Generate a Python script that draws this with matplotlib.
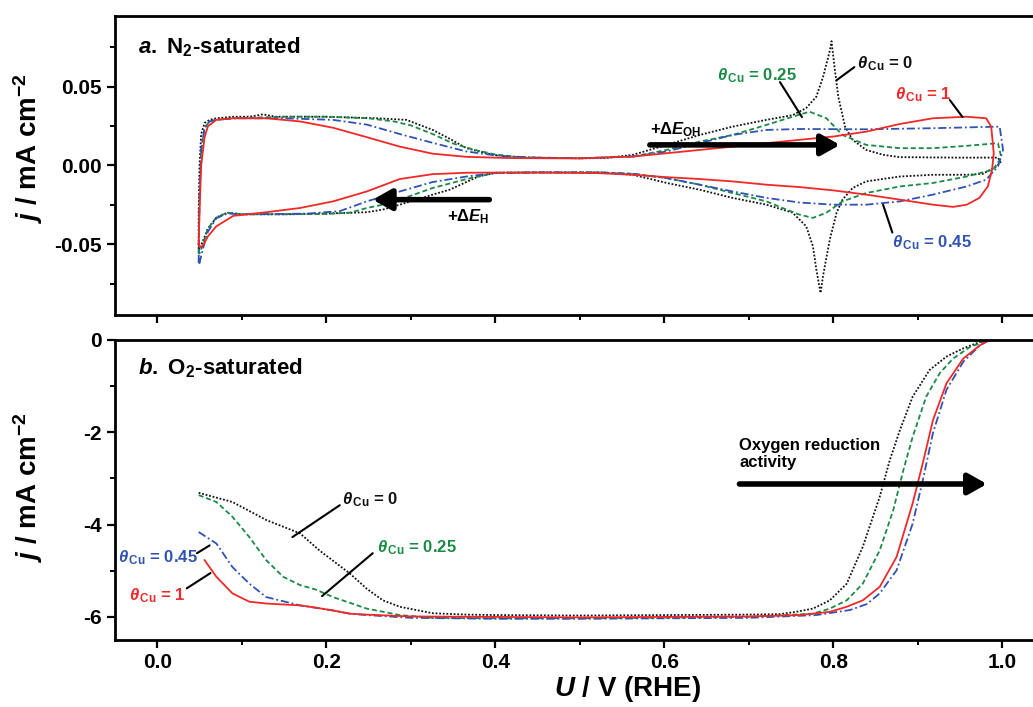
import numpy as np
import matplotlib
matplotlib.use('Agg')
import matplotlib.pyplot as plt
from matplotlib.ticker import MultipleLocator, FormatStrFormatter

plt.rcParams['font.family'] = 'Liberation Sans'
plt.rcParams['font.weight'] = 'bold'
plt.rcParams['axes.labelweight'] = 'bold'
plt.rcParams['mathtext.fontset'] = 'custom'
plt.rcParams['mathtext.rm'] = 'Liberation Sans:bold'
plt.rcParams['mathtext.it'] = 'Liberation Sans:italic:bold'
plt.rcParams['mathtext.bf'] = 'Liberation Sans:bold'
plt.rcParams['axes.unicode_minus'] = False

# ---- panel a: CVs in N2 (anodic sweep then cathodic sweep) ----
cv0_x_up = [0.049, 0.049, 0.050, 0.052, 0.056, 0.062, 0.070, 0.090, 0.110, 0.125, 0.140, 0.200, 0.260, 0.295,
            0.326, 0.346, 0.366, 0.397, 0.430, 0.500, 0.530, 0.563, 0.603, 0.642, 0.681, 0.721, 0.752, 0.768,
            0.780, 0.788, 0.796, 0.798, 0.802, 0.806, 0.814, 0.823, 0.839, 0.859, 0.879, 0.950, 0.995, 0.998]
cv0_y_up = [-0.053, -0.030, 0.000, 0.020, 0.027, 0.029, 0.030, 0.031, 0.031, 0.0325, 0.031, 0.031, 0.030, 0.029,
            0.0226, 0.017, 0.011, 0.0068, 0.0050, 0.0046, 0.0047, 0.0068, 0.0131, 0.0194, 0.0247, 0.0290, 0.0320, 0.0365,
            0.0437, 0.0563, 0.0730, 0.0790, 0.0606, 0.0437, 0.0247, 0.0163, 0.0099, 0.0068, 0.0053, 0.0050, 0.0050, 0.0020]
cv0_x_dn = [0.998, 0.993, 0.977, 0.958, 0.918, 0.879, 0.839, 0.823, 0.811, 0.804, 0.796, 0.788, 0.785, 0.780,
            0.776, 0.768, 0.752, 0.721, 0.681, 0.642, 0.603, 0.563, 0.524, 0.450, 0.400, 0.380, 0.346, 0.326,
            0.307, 0.287, 0.267, 0.248, 0.200, 0.150, 0.100, 0.083, 0.070, 0.060, 0.054, 0.050, 0.049]
cv0_y_dn = [0.0020, -0.0006, -0.0053, -0.0059, -0.0059, -0.0070, -0.0101, -0.0143, -0.0217, -0.0300, -0.0470, -0.0700, -0.0810, -0.0660,
            -0.0513, -0.0386, -0.0300, -0.0249, -0.0206, -0.0154, -0.0111, -0.0059, -0.0044, -0.0044, -0.0046, -0.0070, -0.0154, -0.0185,
            -0.0217, -0.0249, -0.0280, -0.0297, -0.0305, -0.0310, -0.0310, -0.0300, -0.0330, -0.0400, -0.0480, -0.0534, -0.0530]

cv25_x_up = [0.049, 0.050, 0.052, 0.056, 0.062, 0.070, 0.090, 0.150, 0.200, 0.250, 0.280, 0.300, 0.326, 0.350,
             0.375, 0.400, 0.430, 0.500, 0.563, 0.603, 0.642, 0.681, 0.721, 0.752, 0.772, 0.792, 0.811, 0.839,
             0.879, 0.918, 0.958, 0.995, 0.999]
cv25_y_up = [-0.056, -0.020, 0.010, 0.024, 0.028, 0.029, 0.030, 0.031, 0.031, 0.030, 0.028, 0.0255, 0.020, 0.014,
             0.010, 0.007, 0.0052, 0.0046, 0.0057, 0.0099, 0.0152, 0.0194, 0.0258, 0.0310, 0.0342, 0.0300, 0.0194, 0.0131,
             0.0110, 0.0110, 0.0125, 0.0142, 0.0050]
cv25_x_dn = [0.999, 0.989, 0.958, 0.918, 0.879, 0.839, 0.811, 0.792, 0.776, 0.760, 0.740, 0.721, 0.681, 0.642,
             0.603, 0.563, 0.524, 0.450, 0.400, 0.366, 0.326, 0.287, 0.267, 0.248, 0.228, 0.200, 0.150, 0.100,
             0.083, 0.070, 0.060, 0.054, 0.050, 0.049]
cv25_y_dn = [0.0050, -0.0027, -0.0070, -0.0111, -0.0133, -0.0175, -0.0228, -0.0300, -0.0333, -0.0312, -0.0270, -0.0228, -0.0175, -0.0122,
             -0.0080, -0.0053, -0.0044, -0.0044, -0.0047, -0.0086, -0.0143, -0.0217, -0.0249, -0.0270, -0.0300, -0.0308, -0.0310, -0.0310,
             -0.0300, -0.0330, -0.0400, -0.0500, -0.0560, -0.0550]

cv45_x_up = [0.049, 0.050, 0.052, 0.056, 0.062, 0.070, 0.090, 0.150, 0.208, 0.248, 0.287, 0.326, 0.366, 0.405,
             0.450, 0.500, 0.563, 0.603, 0.642, 0.681, 0.721, 0.760, 0.839, 0.918, 0.997, 1.001]
cv45_y_up = [-0.062, -0.020, 0.010, 0.024, 0.028, 0.029, 0.030, 0.030, 0.029, 0.026, 0.020, 0.0144, 0.0089, 0.0061,
             0.0050, 0.0046, 0.0057, 0.0089, 0.0142, 0.0194, 0.0226, 0.0232, 0.0230, 0.0237, 0.0247, 0.0100]
cv45_x_dn = [1.001, 0.995, 0.981, 0.958, 0.918, 0.879, 0.839, 0.800, 0.760, 0.721, 0.681, 0.642, 0.603, 0.563,
             0.524, 0.450, 0.400, 0.366, 0.326, 0.287, 0.248, 0.216, 0.180, 0.150, 0.100, 0.083, 0.070, 0.060,
             0.054, 0.050, 0.049]
cv45_y_dn = [0.0100, -0.0006, -0.0090, -0.0133, -0.0185, -0.0228, -0.0249, -0.0249, -0.0235, -0.0206, -0.0165, -0.0122, -0.0080, -0.0053,
             -0.0044, -0.0044, -0.0048, -0.0070, -0.0105, -0.0165, -0.0228, -0.0290, -0.0305, -0.0308, -0.0310, -0.0305, -0.0335, -0.0420,
             -0.0530, -0.0620, -0.0600]

cv1_x_up = [0.049, 0.050, 0.052, 0.056, 0.060, 0.070, 0.090, 0.129, 0.169, 0.208, 0.248, 0.287, 0.326, 0.366,
            0.420, 0.500, 0.563, 0.603, 0.642, 0.681, 0.721, 0.760, 0.800, 0.839, 0.879, 0.918, 0.958, 0.981,
            0.987, 0.990]
cv1_y_up = [-0.050, -0.030, 0.000, 0.018, 0.025, 0.029, 0.030, 0.030, 0.028, 0.024, 0.018, 0.012, 0.0075, 0.0055,
            0.0047, 0.0045, 0.0057, 0.0078, 0.0099, 0.0120, 0.0142, 0.0163, 0.0184, 0.0215, 0.0264, 0.0300, 0.0310, 0.0300,
            0.0247, 0.0078]
cv1_x_dn = [0.990, 0.988, 0.983, 0.973, 0.958, 0.942, 0.918, 0.879, 0.839, 0.800, 0.760, 0.721, 0.681, 0.642,
            0.603, 0.563, 0.520, 0.450, 0.400, 0.366, 0.326, 0.287, 0.248, 0.208, 0.169, 0.129, 0.090, 0.070,
            0.060, 0.054, 0.051, 0.049]
cv1_y_dn = [0.0078, -0.0027, -0.0133, -0.0206, -0.0249, -0.0263, -0.0249, -0.0217, -0.0185, -0.0158, -0.0137, -0.0122, -0.0101, -0.0086,
            -0.0074, -0.0059, -0.0048, -0.0045, -0.0045, -0.0046, -0.0055, -0.0086, -0.0165, -0.0228, -0.0270, -0.0297, -0.0320, -0.0386,
            -0.0450, -0.0510, -0.0520, -0.0500]

# ---- panel b: ORR polarisation curves in O2 ----
orr0_x = [0.049, 0.089, 0.129, 0.169, 0.192, 0.228, 0.248, 0.267, 0.287, 0.326, 0.366, 0.405, 0.500, 0.600, 0.700,
          0.737, 0.756, 0.776, 0.796, 0.816, 0.835, 0.855, 0.867, 0.879, 0.894, 0.914, 0.934, 0.954, 0.974, 0.985]
orr0_y = [-3.31, -3.51, -3.90, -4.19, -4.56, -5.06, -5.39, -5.64, -5.78, -5.92, -5.95, -5.96, -5.97, -5.96, -5.95,
          -5.94, -5.89, -5.82, -5.64, -5.28, -4.48, -3.40, -2.60, -1.95, -1.23, -0.65, -0.36, -0.18, -0.04, 0.0]
orr25_x = [0.049, 0.070, 0.089, 0.109, 0.129, 0.149, 0.169, 0.188, 0.208, 0.248, 0.287, 0.326, 0.400, 0.500, 0.600,
           0.700, 0.776, 0.796, 0.816, 0.835, 0.855, 0.871, 0.883, 0.894, 0.910, 0.926, 0.942, 0.962, 0.985]
orr25_y = [-3.36, -3.51, -3.83, -4.27, -4.77, -5.13, -5.31, -5.41, -5.57, -5.82, -5.96, -6.02, -6.03, -6.03, -6.02,
           -6.00, -5.93, -5.82, -5.64, -5.28, -4.56, -3.69, -2.82, -2.10, -1.23, -0.72, -0.40, -0.15, 0.0]
orr45_x = [0.049, 0.070, 0.089, 0.109, 0.129, 0.149, 0.169, 0.208, 0.228, 0.248, 0.300, 0.400, 0.500, 0.600, 0.700,
           0.780, 0.820, 0.840, 0.855, 0.875, 0.894, 0.906, 0.918, 0.934, 0.954, 0.974, 0.985]
orr45_y = [-4.16, -4.41, -4.92, -5.28, -5.57, -5.66, -5.75, -5.86, -5.93, -5.96, -6.02, -6.04, -6.04, -6.03, -6.02,
           -5.96, -5.85, -5.72, -5.49, -4.99, -3.98, -3.04, -2.02, -1.08, -0.47, -0.11, 0.0]
orr1_x = [0.056, 0.070, 0.089, 0.109, 0.129, 0.169, 0.188, 0.208, 0.228, 0.248, 0.300, 0.400, 0.500, 0.600, 0.700,
          0.760, 0.796, 0.816, 0.835, 0.855, 0.875, 0.894, 0.906, 0.918, 0.934, 0.954, 0.974, 0.985]
orr1_y = [-4.77, -5.13, -5.49, -5.67, -5.71, -5.75, -5.80, -5.86, -5.93, -5.95, -5.99, -6.00, -6.01, -6.00, -5.99,
          -5.96, -5.89, -5.78, -5.64, -5.35, -4.70, -3.54, -2.67, -1.74, -0.94, -0.40, -0.11, 0.0]

theta_labels = ['0', '0.25', '0.45', '1']
colors = ['#111111', '#1b8a45', '#2f52b5', '#f02828']
linestyles = [(0, (1, 1)), (0, (2.8, 1.6)), (0, (4.5, 1.6, 1, 1.6)), '-']

cv_x = [cv0_x_up + cv0_x_dn, cv25_x_up + cv25_x_dn, cv45_x_up + cv45_x_dn, cv1_x_up + cv1_x_dn]
cv_y = [cv0_y_up + cv0_y_dn, cv25_y_up + cv25_y_dn, cv45_y_up + cv45_y_dn, cv1_y_up + cv1_y_dn]
orr_x = [orr0_x, orr25_x, orr45_x, orr1_x]
orr_y = [orr0_y, orr25_y, orr45_y, orr1_y]

fig = plt.figure(figsize=(10.33, 7.07), dpi=100)
W, H = 1033, 707
left, right = 115, 1036
ax1 = fig.add_axes([left / W, 1 - 315 / H, (right - left) / W, (315 - 16) / H])
ax2 = fig.add_axes([left / W, 1 - 640 / H, (right - left) / W, (640 - 340) / H])

for i in range(4):
    ax1.plot(cv_x[i], cv_y[i], color=colors[i], ls=linestyles[i], lw=1.3)
    ax2.plot(orr_x[i], orr_y[i], color=colors[i], ls=linestyles[i], lw=1.3)

for ax in (ax1, ax2):
    ax.set_xlim(-0.05, 1.04)
    ax.xaxis.set_major_locator(MultipleLocator(0.2))
    ax.xaxis.set_minor_locator(MultipleLocator(0.1))
    ax.tick_params(which='major', direction='out', length=6, width=1.6, labelsize=15,
                   top=False, right=False)
    ax.tick_params(which='minor', direction='out', length=3.5, width=1.4, top=False, right=False)
    for s in ax.spines.values():
        s.set_linewidth(2)
    ax.spines['right'].set_visible(False)

ax1.set_ylim(-0.095, 0.095)
ax1.yaxis.set_major_locator(MultipleLocator(0.05))
ax1.yaxis.set_minor_locator(MultipleLocator(0.025))
ax1.yaxis.set_major_formatter(FormatStrFormatter('%.2f'))
ax1.tick_params(axis='x', labelbottom=False)

ax2.set_ylim(-6.5, 0)
ax2.yaxis.set_major_locator(MultipleLocator(2))
ax2.yaxis.set_minor_locator(MultipleLocator(1))
ax2.yaxis.set_major_formatter(FormatStrFormatter('%d'))
ax2.xaxis.set_major_formatter(FormatStrFormatter('%.1f'))
ax2.tick_params(axis='x', which='major', pad=3)

ylab = r'$j$ / mA cm$^{-2}$'
ax1.set_ylabel(ylab, fontsize=20, fontweight='bold')
ax2.set_ylabel(ylab, fontsize=20, fontweight='bold')
ax1.yaxis.set_label_coords(-0.076, 0.56)
ax2.yaxis.set_label_coords(-0.076, 0.51)
ax2.set_xlabel(r'$U$ / V (RHE)', fontsize=20, fontweight='bold')
ax2.xaxis.set_label_coords(0.556, -0.115)

ax1.text(0.025, 0.896, r'$a.$ N$_2$-saturated', transform=ax1.transAxes, fontsize=16,
         ha='left', va='center')
ax2.text(0.025, 0.907, r'$b.$ O$_2$-saturated', transform=ax2.transAxes, fontsize=16,
         ha='left', va='center')


def theta_label(ax, txt_xy, line_from, line_to, idx):
    ax.text(txt_xy[0], txt_xy[1], r'$\theta_{\,\mathrm{Cu}}$ = ' + theta_labels[idx],
            color=colors[idx], fontsize=12, ha='left', va='center')
    ax.annotate('', xy=line_to, xytext=line_from,
                arrowprops=dict(arrowstyle='-', lw=1.5, color='black', shrinkA=0, shrinkB=0))


def big_arrow(ax, start, end):
    ax.annotate('', xy=end, xytext=start,
                arrowprops=dict(arrowstyle='-|>,head_length=0.8,head_width=0.45', lw=4,
                                mutation_scale=14, color='black', shrinkA=0, shrinkB=0))


# panel a labels
theta_label(ax1, (0.828, 0.065), (0.825, 0.0625), (0.804, 0.0542), 0)
theta_label(ax1, (0.662, 0.0568), (0.737, 0.053), (0.763, 0.0308), 1)
theta_label(ax1, (0.869, -0.0489), (0.870, -0.0426), (0.859, -0.0249), 2)
theta_label(ax1, (0.873, 0.0448), (0.938, 0.0416), (0.953, 0.0308), 3)
big_arrow(ax1, (0.583, 0.0131), (0.808, 0.0131))
ax1.text(0.583, 0.0226, r'+$\Delta E_{\mathrm{OH}}$', fontsize=12, ha='left', va='center')
big_arrow(ax1, (0.393, -0.0217), (0.255, -0.0217))
ax1.text(0.393, -0.0325, r'+$\Delta E_{\mathrm{H}}$', fontsize=12, ha='right', va='center')

# panel b labels
theta_label(ax2, (0.219, -3.45), (0.216, -3.58), (0.160, -4.27), 0)
theta_label(ax2, (0.260, -4.49), (0.255, -4.62), (0.195, -5.55), 1)
theta_label(ax2, (-0.047, -4.71), (0.047, -4.62), (0.062, -4.45), 2)
theta_label(ax2, (-0.033, -5.53), (0.035, -5.38), (0.063, -5.05), 3)
ax2.text(0.689, -2.47, 'Oxygen reduction\nactivity', fontsize=12, ha='left', va='center',
         linespacing=1.15)
big_arrow(ax2, (0.689, -3.12), (0.982, -3.12))

fig.savefig('out.png', dpi=100)
